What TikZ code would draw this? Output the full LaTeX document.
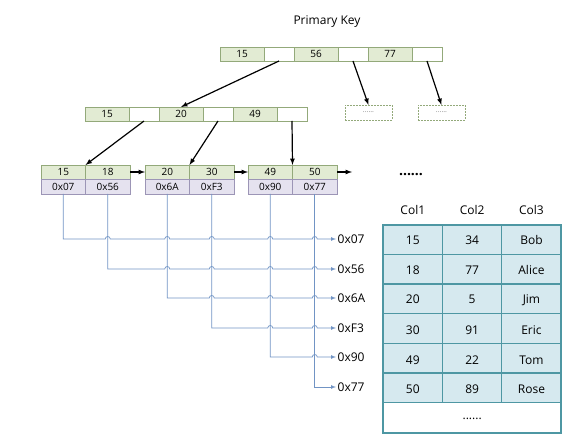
\documentclass[tikz,border=0pt]{standalone}
\usepackage{fontspec}
\setmainfont{Open Sans}
\usepackage{tikz}
\usetikzlibrary{shapes,arrows,positioning,calc,matrix}
\usepackage{xcolor}

\definecolor{keyfill}{HTML}{E2EBD3}
\definecolor{keyline}{HTML}{93A97A}
\definecolor{addrfill}{HTML}{E5E2EF}
\definecolor{addrline}{HTML}{9C95B6}
\definecolor{tabfill}{HTML}{D6E9EF}
\definecolor{tabline}{HTML}{4E97A3}
\definecolor{linkblue}{HTML}{7194C4}

\tikzset{
  cell/.style={draw, line width=0.8pt, inner sep=0pt, outer sep=0pt, minimum height=14,
    font=\fontsize{10}{12}\selectfont},
  keycell/.style={cell, draw=keyline, fill=keyfill, minimum width=44},
  ptrcell/.style={cell, draw=keyline, fill=white, minimum width=30},
  leafkey/.style={keycell, minimum width=44.5},
  addrcell/.style={cell, draw=addrline, fill=addrfill, minimum width=44.5, minimum height=15},
  morebox/.style={cell, draw=keyline, dash pattern=on 2pt off 1pt, minimum width=47, minimum height=15,
    font=\fontsize{7}{8}\selectfont, text=gray},
  tabcell/.style={inner sep=0pt, outer sep=0pt, minimum width=59.3, minimum height=29.6,
    font=\fontsize{12}{14}\selectfont},
  tabgrid/.style={draw=tabline, line width=1.4pt},
  arr/.style={-latex, line width=1.2pt, black},
  link/.style={-latex, line width=0.7pt, linkblue},
  addrlabel/.style={anchor=west, inner sep=1.5pt, font=\fontsize{12}{14}\selectfont}
}

\begin{document}
\begin{tikzpicture}[x=1pt, y=-1pt]
\useasboundingbox (0,0) rectangle (576,443);

\node[font=\fontsize{12}{14}\selectfont] (title) at (327,22) {Primary Key};

% root
\node[keycell, anchor=north west] (t1) at (220,47) {15};
\node[ptrcell, right=0pt of t1] (t2) {};
\node[keycell, right=0pt of t2] (t3) {56};
\node[ptrcell, right=0pt of t3] (t4) {};
\node[keycell, right=0pt of t4] (t5) {77};
\node[ptrcell, right=0pt of t5] (t6) {};

\node[morebox] (d1) at (368.5,112.5) {......};
\node[morebox] (d2) at (441.5,112.5) {......};

% second level
\node[keycell, anchor=north west] (s1) at (85,107) {15};
\node[ptrcell, right=0pt of s1] (s2) {};
\node[keycell, right=0pt of s2] (s3) {20};
\node[ptrcell, right=0pt of s3] (s4) {};
\node[keycell, right=0pt of s4] (s5) {49};
\node[ptrcell, right=0pt of s5] (s6) {};

% leaves
\node[leafkey, anchor=north west] (k1) at (41,165) {15};
\node[leafkey, right=0pt of k1] (k2) {18};
\node[leafkey, anchor=north west] (k3) at (145,165) {20};
\node[leafkey, right=0pt of k3] (k4) {30};
\node[leafkey, anchor=north west] (k5) at (248,165) {49};
\node[leafkey, right=0pt of k5] (k6) {50};
\foreach \n/\a in {1/0x07,2/0x56,3/0x6A,4/0xF3,5/0x90,6/0x77}
  \node[addrcell, below=0pt of k\n] (a\n) {\a};
\coordinate (next) at (352,172);

\draw[arr] (t2.south) -- (s3.north);
\draw[arr] (t4.south) -- (d1.north);
\draw[arr] (t6.south) -- (d2.north);
\draw[arr] (s2.south) -- (k1.north east);
\draw[arr] (s4.south) -- (k3.north east);
\draw[arr] (s6.south) -- (k5.north east);
\draw[arr] (k2.east) -- (k3.west);
\draw[arr] (k4.east) -- (k5.west);
\draw[arr] (k6.east) -- (next);

\node[font=\fontsize{14}{16}\selectfont\bfseries] (dots) at (411,175) {......};

% row pointers
\foreach \i/\y/\a in {1/239/0x07,2/269/0x56,3/298/0x6A,4/328/0xF3,5/357/0x90,6/387/0x77}
  \node[addrlabel] (p\i) at (336,\y) {\a};
\foreach \i/\hops in {1/{2,3,4,5,6},2/{3,4,5,6},3/{4,5,6},4/{5,6},5/{6}}
  \draw[link] (a\i.south) -- (a\i.south |- p\i.west)
    \foreach \j in \hops { -- ([xshift=-2.5pt]a\j.south |- p\i.west)
      arc[start angle=180, end angle=0, radius=2.5pt] }
    -- (p\i.west);
\draw[link] (a6.south) |- (p6.west);

% table
\fill[tabfill] (383,225) rectangle (561,402.6);
\matrix (tab) [matrix of nodes, anchor=north west, inner sep=0pt,
  column sep=0pt, row sep=0pt, nodes={tabcell}] at (383,195.4) {
  Col1 & Col2 & Col3 \\
  15 & 34 & Bob \\
  18 & 77 & Alice \\
  20 & 5 & Jim \\
  30 & 91 & Eric \\
  49 & 22 & Tom \\
  50 & 89 & Rose \\
  & |(tabend)| ...... & \\
};
\draw[tabgrid] (383,225) rectangle (561,433);
\foreach \k in {1,...,6}
  \draw[tabgrid] (383,225+29.6*\k) -- (561,225+29.6*\k);
\foreach \x in {442.3,501.6}
  \draw[tabgrid] (\x,225) -- (\x,402.6);
\end{tikzpicture}
\end{document}
